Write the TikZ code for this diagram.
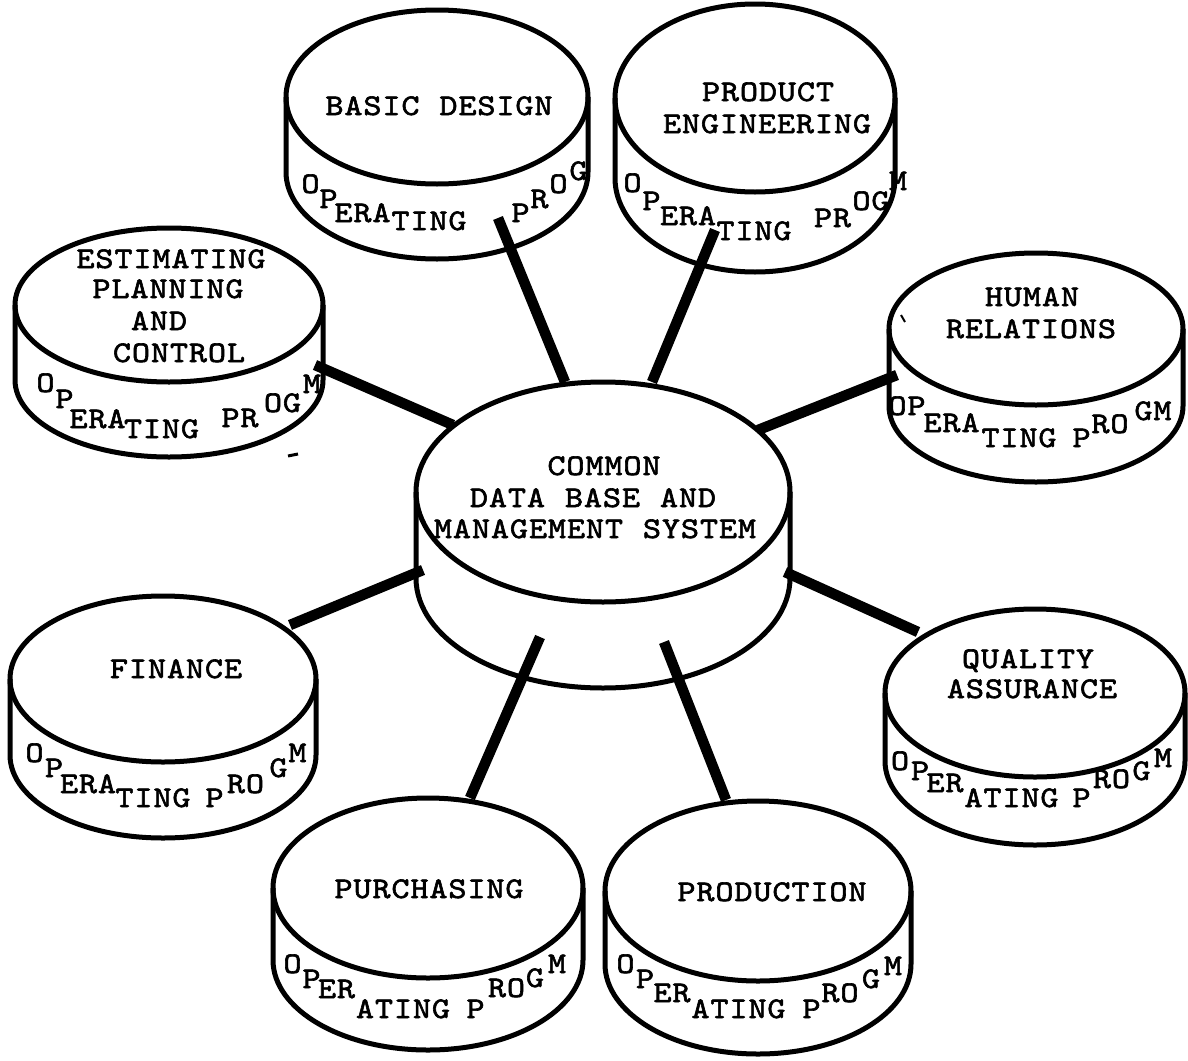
\documentclass[tikz,border=0pt]{standalone}
\usepackage{fontspec}
\newfontfamily\twfont{lmmono10-regular.otf}[FakeBold=2,FakeStretch=1.15]
\makeatletter
\def\tw#1{\kern-3pt\tw@loop#1\relax\kern-3pt}
\def\tw@loop#1{\ifx\relax#1\else\makebox[19pt]{#1}\expandafter\tw@loop\fi}
\makeatother
\newcommand\cylinder[5]{%
  \draw[outline] (#1,#2) ellipse [x radius=#3, y radius=#4];
  \draw[outline] (#1-#3,#2) -- (#1-#3,#2+#5)
     arc[start angle=180, end angle=0, x radius=#3, y radius=#4] -- (#1+#3,#2);}
\begin{document}
\begin{tikzpicture}[x=1pt,y=-1pt,line join=round,
  outline/.style={line width=5pt},
  link/.style={line width=10.5pt},
  lbl/.style={inner sep=0pt, anchor=base, font=\twfont\fontsize{30}{32}\selectfont}]
\fill[white] (0,0) rectangle (1188,1060);
\useasboundingbox (0,0) rectangle (1188,1060);

% cylinders: cx, cy, rx, ry, h
\cylinder{437}{97}{151}{87}{75}   % basic design
\cylinder{755}{98}{140}{94}{80}   % product engineering
\cylinder{169}{305}{154}{77}{75}  % estimating
\cylinder{1036}{329}{147}{76}{77} % human relations
\cylinder{603}{492}{187}{110}{86} % common data base
\cylinder{163}{679}{153}{83}{76}  % finance
\cylinder{1035}{693}{150}{84}{68} % quality
\cylinder{428}{888}{155}{90}{72}  % purchasing
\cylinder{758}{891}{153}{90}{73}  % production

% main labels
\node[lbl] (bdt) at (439,115) {\tw{BASIC~DESIGN}};
\node[lbl] (pet1) at (768,101) {\tw{PRODUCT}};
\node[lbl] (pet2) at (767,133) {\tw{ENGINEERING}};
\node[lbl] (ept1) at (171,268) {\tw{ESTIMATING}};
\node[lbl] (ept2) at (168,298) {\tw{PLANNING}};
\node[lbl] (ept3) at (159,330) {\tw{AND}};
\node[lbl] (ept4) at (179,362) {\tw{CONTROL}};
\node[lbl] (hrt1) at (1032,306) {\tw{HUMAN}};
\node[lbl] (hrt2) at (1031,338) {\tw{RELATIONS}};
\node[lbl] (cet1) at (604,475) {\tw{COMMON}};
\node[lbl] (cet2) at (593,507) {\tw{DATA~BASE~AND}};
\node[lbl] (cet3) at (595,538) {\tw{MANAGEMENT~SYSTEM}};
\node[lbl] (fit) at (176,678) {\tw{FINANCE}};
\node[lbl] (qat1) at (1028,668) {\tw{QUALITY}};
\node[lbl] (qat2) at (1032,698) {\tw{ASSURANCE}};
\node[lbl] (put) at (429,898) {\tw{PURCHASING}};
\node[lbl] (prt) at (772,901) {\tw{PRODUCTION}};

% band texts: estimating
\node[lbl] (ep1) at (45.5,392) {\tw{O}};
\node[lbl] (ep2) at (64.5,408) {\tw{P}};
\node[lbl] (ep3) at (97.5,428) {\tw{ERA}};
\node[lbl] (ep4) at (161.5,438) {\tw{TING}};
\node[lbl] (ep5) at (240,427) {\tw{PR}};
\node[lbl] (ep6) at (282.5,412) {\tw{OG}};
\node[lbl] (ep7) at (312,393) {\tw{M}};
% basic design
\node[lbl] (bd1) at (310.5,193) {\tw{O}};
\node[lbl] (bd2) at (328.5,208) {\tw{P}};
\node[lbl] (bd3) at (362.5,222) {\tw{ERA}};
\node[lbl] (bd4) at (429,230) {\tw{TING}};
\node[lbl] (bd5) at (520.5,222) {\tw{P}};
\node[lbl] (bd6) at (539.5,208) {\tw{R}};
\node[lbl] (bd7) at (558.5,193) {\tw{O}};
\node[lbl] (bd8) at (578.5,180) {\tw{G}};
% product engineering
\node[lbl] (pe1) at (632.5,192) {\tw{O}};
\node[lbl] (pe2) at (651.5,210) {\tw{P}};
\node[lbl] (pe3) at (688,225) {\tw{ERA}};
\node[lbl] (pe4) at (754,240) {\tw{TING}};
\node[lbl] (pe5) at (832.5,227) {\tw{PR}};
\node[lbl] (pe6) at (871,210) {\tw{OG}};
\node[lbl] (pe7) at (898,190) {\tw{M}};
% human relations
\node[lbl] (hr1) at (907,415) {\tw{OP}};
\node[lbl] (hr2) at (951.5,432) {\tw{ERA}};
\node[lbl] (hr3) at (1019,447) {\tw{TING}};
\node[lbl] (hr4) at (1081.5,447) {\tw{P}};
\node[lbl] (hr5) at (1110,433) {\tw{RO}};
\node[lbl] (hr6) at (1153,420) {\tw{GM}};
% finance
\node[lbl] (fi1) at (34.5,762) {\tw{O}};
\node[lbl] (fi2) at (54,777) {\tw{P}};
\node[lbl] (fi3) at (88,793) {\tw{ERA}};
\node[lbl] (fi4) at (153,807) {\tw{TING}};
\node[lbl] (fi5) at (214.5,807) {\tw{P}};
\node[lbl] (fi6) at (245.5,793) {\tw{RO}};
\node[lbl] (fi7) at (278.5,777) {\tw{G}};
\node[lbl] (fi8) at (297.5,762) {\tw{M}};
% quality assurance
\node[lbl] (qa1) at (900,770) {\tw{O}};
\node[lbl] (qa2) at (920,780) {\tw{P}};
\node[lbl] (qa3) at (945,792) {\tw{ER}};
\node[lbl] (qa4) at (1011.5,807) {\tw{ATING}};
\node[lbl] (qa5) at (1081.5,807) {\tw{P}};
\node[lbl] (qa6) at (1111.5,788) {\tw{RO}};
\node[lbl] (qa7) at (1141.5,780) {\tw{G}};
\node[lbl] (qa8) at (1163,767) {\tw{M}};
% purchasing
\node[lbl] (pu1) at (292.5,973) {\tw{O}};
\node[lbl] (pu2) at (311.5,988) {\tw{P}};
\node[lbl] (pu3) at (336.5,998) {\tw{ER}};
\node[lbl] (pu4) at (403,1018) {\tw{ATING}};
\node[lbl] (pu5) at (475.5,1018) {\tw{P}};
\node[lbl] (pu6) at (506.5,997) {\tw{RO}};
\node[lbl] (pu7) at (535,987) {\tw{G}};
\node[lbl] (pu8) at (557,973) {\tw{M}};
% production
\node[lbl] (pr1) at (625.5,973) {\tw{O}};
\node[lbl] (pr2) at (645,988) {\tw{P}};
\node[lbl] (pr3) at (672,1002) {\tw{ER}};
\node[lbl] (pr4) at (738.5,1018) {\tw{ATING}};
\node[lbl] (pr5) at (811.5,1018) {\tw{P}};
\node[lbl] (pr6) at (840,1002) {\tw{RO}};
\node[lbl] (pr7) at (871,988) {\tw{G}};
\node[lbl] (pr8) at (893,975) {\tw{M}};

% connector end points
\coordinate (bdA) at (498,218);  \coordinate (bdB) at (565,382);
\coordinate (peA) at (715,230);  \coordinate (peB) at (652,382);
\coordinate (epA) at (315,365);  \coordinate (epB) at (453,425);
\coordinate (hrA) at (897,375);  \coordinate (hrB) at (758,430);
\coordinate (fiA) at (290,625);  \coordinate (fiB) at (423,570);
\coordinate (qaA) at (918,632);  \coordinate (qaB) at (785,572);
\coordinate (puA) at (470,798);  \coordinate (puB) at (540,637);
\coordinate (prA) at (726,800);  \coordinate (prB) at (664,642);
\foreach \s in {bd,pe,ep,hr,fi,qa,pu,pr}{\draw[link] (\s A) -- (\s B);}

% stray marks of the original
\coordinate (m1a) at (288,456); \coordinate (m1b) at (298,454);
\draw[line width=3pt] (m1a) -- (m1b);
\coordinate (m2a) at (901,315); \coordinate (m2b) at (905,322);
\draw[line width=2pt] (m2a) -- (m2b);
\end{tikzpicture}
\end{document}
